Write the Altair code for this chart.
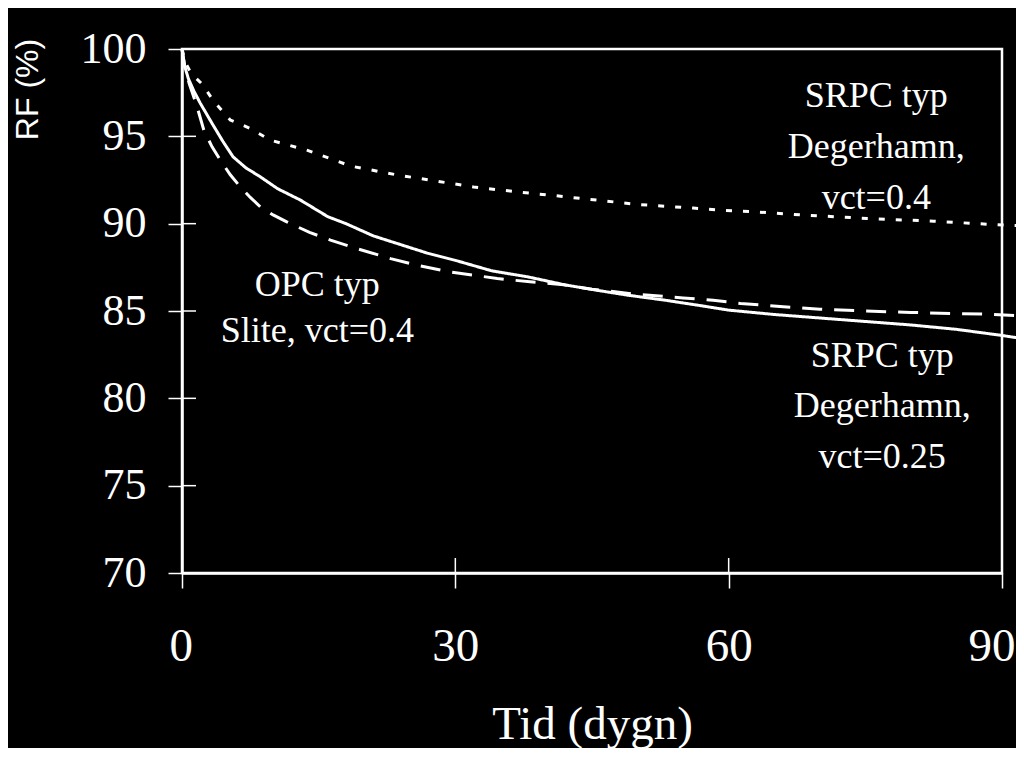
import altair as alt
import pandas as pd

# --- data ---
t_solid = [0, 0.3, 0.7, 1.3, 2, 3.3, 4.5, 5.6, 7, 8.6, 10.5, 13, 16, 18, 21, 24, 27, 30, 34, 38, 42, 45.5, 49, 53, 57, 60, 65, 70, 75, 80, 85, 90, 92.5]
rf_solid = [100, 99.0, 98.3, 97.6, 96.9, 95.74, 94.7, 93.83, 93.2, 92.68, 92.0, 91.35, 90.4, 90.0, 89.3, 88.8, 88.3, 87.9, 87.3, 86.95, 86.5, 86.19, 85.9, 85.62, 85.3, 85.05, 84.8, 84.6, 84.4, 84.2, 83.95, 83.6, 83.4]

t_dash = [0, 0.3, 0.8, 1.65, 2.4, 3.3, 4.2, 5.3, 6.4, 7.5, 8.6, 10, 11.5, 14, 16.3, 19, 22.9, 26, 29.4, 34.6, 38.2, 41.9, 45, 50, 55, 58.3, 61.3, 66, 70, 75, 80, 85, 88, 92.5]
rf_dash = [100, 99.0, 98.0, 96.7, 95.35, 94.4, 93.64, 92.8, 92.1, 91.5, 90.96, 90.5, 90.1, 89.5, 89.06, 88.6, 88.0, 87.6, 87.24, 86.86, 86.67, 86.5, 86.25, 85.95, 85.75, 85.62, 85.43, 85.25, 85.1, 85.0, 84.92, 84.85, 84.82, 84.72]

t_dot = [0, 0.4, 1, 2.2, 3.5, 5.3, 7.5, 9.7, 13.7, 18.5, 23.7, 27.3, 32, 36.8, 41, 45.5, 50, 56.1, 59.1, 62.7, 68, 75.2, 82.5, 90.5, 92.5]
rf_dot = [100, 99.2, 98.6, 98.0, 97.0, 95.93, 95.45, 94.78, 94.21, 93.3, 92.78, 92.49, 92.1, 91.82, 91.6, 91.35, 91.1, 90.89, 90.77, 90.68, 90.5, 90.3, 90.14, 89.91, 89.88]

x_ticks = [0, 30, 60, 90]
y_ticks = [70, 75, 80, 85, 90, 95, 100]

ann_text = ["SRPC typ", "Degerhamn,", "vct=0.4",
            "SRPC typ", "Degerhamn,", "vct=0.25",
            "OPC typ", "Slite, vct=0.4"]
ann_x = [76.2, 76.2, 76.2, 76.85, 76.85, 76.85, 14.85, 14.85]
ann_y = [96.67, 93.75, 90.83, 81.78, 78.92, 76.0, 85.85, 83.22]

SERIF = "Liberation Serif"

xscale = alt.Scale(domain=[0, 90], nice=False, zero=False)
yscale = alt.Scale(domain=[70, 100], nice=False, zero=False)

xaxis = alt.Axis(values=x_ticks, format="d", labelFont=SERIF, labelFontSize=47,
                 labelPadding=35, labelFlush=True, labelFlushOffset=13,
                 labelBound=False, labelOverlap=False,
                 tickSize=15, tickWidth=1.5, grid=False,
                 title="Tid (dygn)", titleFont=SERIF, titleFontSize=47,
                 titleFontWeight="normal", titleX=410, titleY=165,
                 titleAlign="center", titleBaseline="alphabetic")
yaxis = alt.Axis(values=y_ticks, format="d", labelFont=SERIF, labelFontSize=44,
                 labelPadding=22, labelFlush=False, labelBound=False, labelOverlap=False,
                 tickSize=14, tickWidth=1.5, grid=False,
                 title="RF (%)", titleFont="Liberation Sans", titleFontSize=32,
                 titleFontWeight="normal", titleAngle=270, titleX=-145, titleY=40,
                 titleAlign="center", titleBaseline="alphabetic")


def line_layer(t, v, dash):
    df = pd.DataFrame({"t": t, "rf": v})
    mk = alt.Chart(df).mark_line(color="white", strokeWidth=3, clip=False,
                                 strokeDash=dash)
    return mk.encode(
        x=alt.X("t:Q", scale=xscale, axis=xaxis),
        y=alt.Y("rf:Q", scale=yscale, axis=yaxis),
    )


solid = line_layer(t_solid, rf_solid, [1, 0])
dashed = line_layer(t_dash, rf_dash, [20, 12])
dotted = line_layer(t_dot, rf_dot, [6, 11])

ytick_df = pd.DataFrame({"v": y_ticks})
xtick_df = pd.DataFrame({"v": x_ticks})
ytick_in = alt.Chart(ytick_df).mark_rule(color="white", strokeWidth=1.5).encode(
    y=alt.Y("v:Q", scale=yscale, axis=yaxis), x=alt.value(0), x2=alt.value(14))
xtick_in = alt.Chart(xtick_df).mark_rule(color="white", strokeWidth=1.5).encode(
    x=alt.X("v:Q", scale=xscale, axis=xaxis), y=alt.value(509), y2=alt.value(524))

ann_df = pd.DataFrame({"x": ann_x, "y": ann_y, "text": ann_text})
ann = alt.Chart(ann_df).mark_text(font=SERIF, fontSize=36, color="white",
                                  align="center", baseline="alphabetic").encode(
    x=alt.X("x:Q", scale=xscale, axis=xaxis),
    y=alt.Y("y:Q", scale=yscale, axis=yaxis),
    text="text:N")

chart = alt.layer(solid, dashed, dotted, ytick_in, xtick_in, ann).properties(
    width=820, height=524,
    autosize="none",
    padding={"left": 174, "top": 41, "right": 14, "bottom": 175},
    background="black",
).configure_view(
    stroke="white", strokeWidth=2.5, fill="black"
).configure_axis(
    domainColor="white", domainWidth=2.5, tickColor="white",
    labelColor="white", titleColor="white"
)

chart.save("out.html", embed_options={"renderer": "svg", "actions": False})
